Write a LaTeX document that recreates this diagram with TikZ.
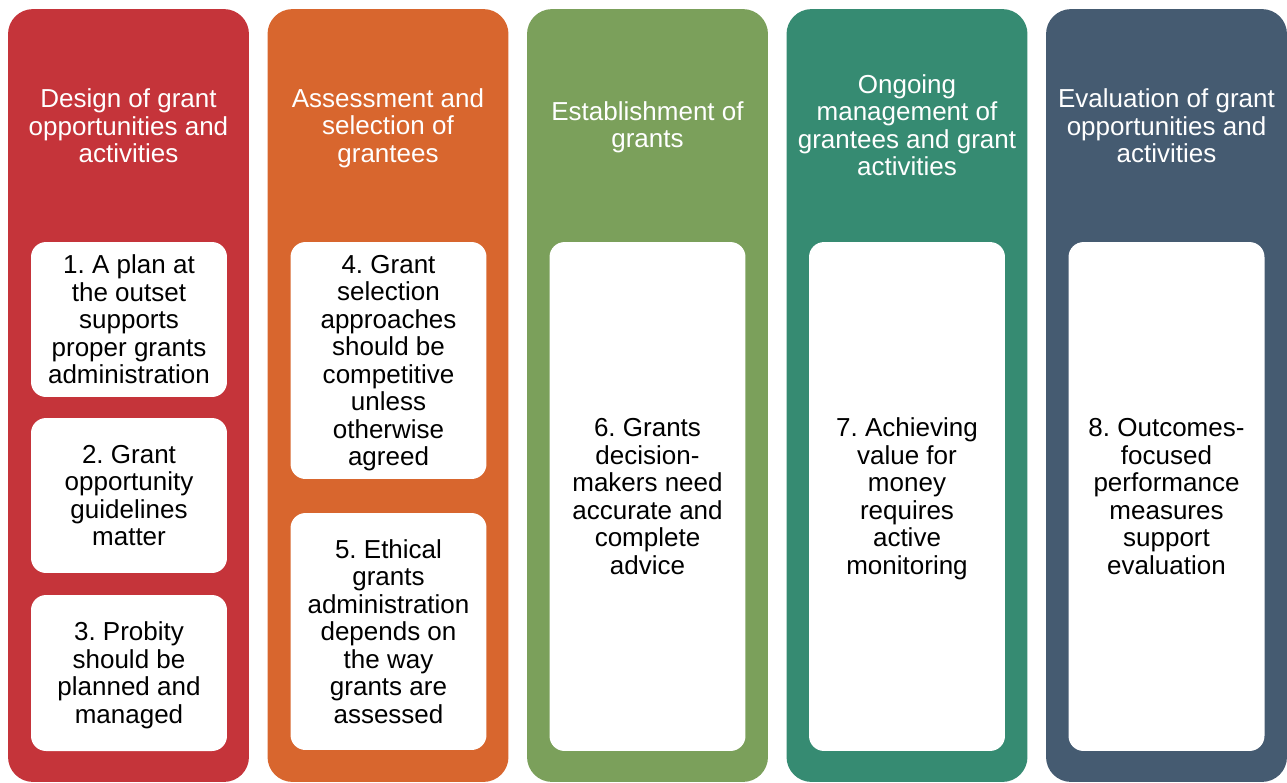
\documentclass[tikz,border=0pt]{standalone}
\usepackage{fontspec}
\setmainfont{Liberation Sans}
\usepackage{tikz}
\usepackage{xcolor}
\frenchspacing

\definecolor{designred}{RGB}{197,52,58}
\definecolor{selectorange}{RGB}{216,102,46}
\definecolor{establishgreen}{RGB}{123,160,91}
\definecolor{manageteal}{RGB}{54,139,114}
\definecolor{evalslate}{RGB}{69,91,113}

\newcommand{\phasefont}{\fontsize{14.8}{15.65}\selectfont}

\begin{document}
\begin{tikzpicture}[x=0.02cm, y=-0.02cm,
    phase/.style={rectangle, rounded corners=0.5cm, minimum width=4.82cm,
        minimum height=15.46cm, inner sep=0pt},
    heading/.style={text=white, align=center, font=\phasefont, inner sep=0pt},
    card/.style={rectangle, fill=white, rounded corners=0.3cm,
        minimum width=3.92cm, inner sep=0pt},
    statement/.style={align=center, font=\phasefont, inner sep=0pt, yshift=-0.07cm}]
    \useasboundingbox (0,0) rectangle (1287,782);

    % The five phase columns
    \node[phase, fill=designred] (design) at (128.5,395.5) {};
    \node[phase, fill=selectorange] (select) at (388,395.5) {};
    \node[phase, fill=establishgreen] (establish) at (647.5,395.5) {};
    \node[phase, fill=manageteal] (manage) at (907,395.5) {};
    \node[phase, fill=evalslate] (evaluate) at (1166.5,395.5) {};

    % Phase headings
    \node[heading] (designhead) at (128.5,126) {Design of grant\\opportunities and\\activities};
    \node[heading] (selecthead) at (388,128) {\strut Assessment and\\selection of\\grantees};
    \node[heading] (establishhead) at (647.5,127) {\strut Establishment of\\grants};
    \node[heading] (managehead) at (907,125) {Ongoing\\management of\\grantees and grant\\activities};
    \node[heading] (evaluatehead) at (1166.5,126) {Evaluation of grant\\opportunities and\\activities};

    % Principle cards within each phase
    \node[card, minimum height=3.1cm] (p1) at (129,319.5) {};
    \node[card, minimum height=3.1cm] (p2) at (129,495.5) {};
    \node[card, minimum height=3.12cm] (p3) at (129,673) {};
    \node[card, minimum height=4.74cm] (p4) at (388.5,360.5) {};
    \node[card, minimum height=4.74cm] (p5) at (388.5,631.5) {};
    \node[card, minimum height=10.18cm] (p6) at (647.5,496.5) {};
    \node[card, minimum height=10.18cm] (p7) at (907,496.5) {};
    \node[card, minimum height=10.18cm] (p8) at (1166.5,496.5) {};

    % and their wording
    \node[statement] (p1text) at (p1.center)
        {\strut 1. A plan at\\the outset\\supports\\proper grants\\administration\strut};
    \node[statement] (p2text) at (p2.center)
        {\strut 2. Grant\\opportunity\\guidelines\\matter\strut};
    \node[statement] (p3text) at (p3.center)
        {\strut 3. Probity\\should be\\planned and\\managed\strut};
    \node[statement] (p4text) at (p4.center)
        {\strut 4. Grant\\selection\\approaches\\should be\\competitive\\unless\\otherwise\\agreed\strut};
    \node[statement] (p5text) at (p5.center)
        {\strut 5. Ethical\\grants\\administration\\depends on\\the way\\grants are\\assessed\strut};
    \node[statement] (p6text) at (p6.center)
        {\strut 6. Grants\\decision-\\makers need\\accurate and\\complete\\advice\strut};
    \node[statement] (p7text) at (p7.center)
        {\strut 7. Achieving\\value for\\money\\requires\\active\\monitoring\strut};
    \node[statement] (p8text) at (p8.center)
        {\strut 8. Outcomes-\\focused\\performance\\measures\\support\\evaluation\strut};
\end{tikzpicture}
\end{document}
